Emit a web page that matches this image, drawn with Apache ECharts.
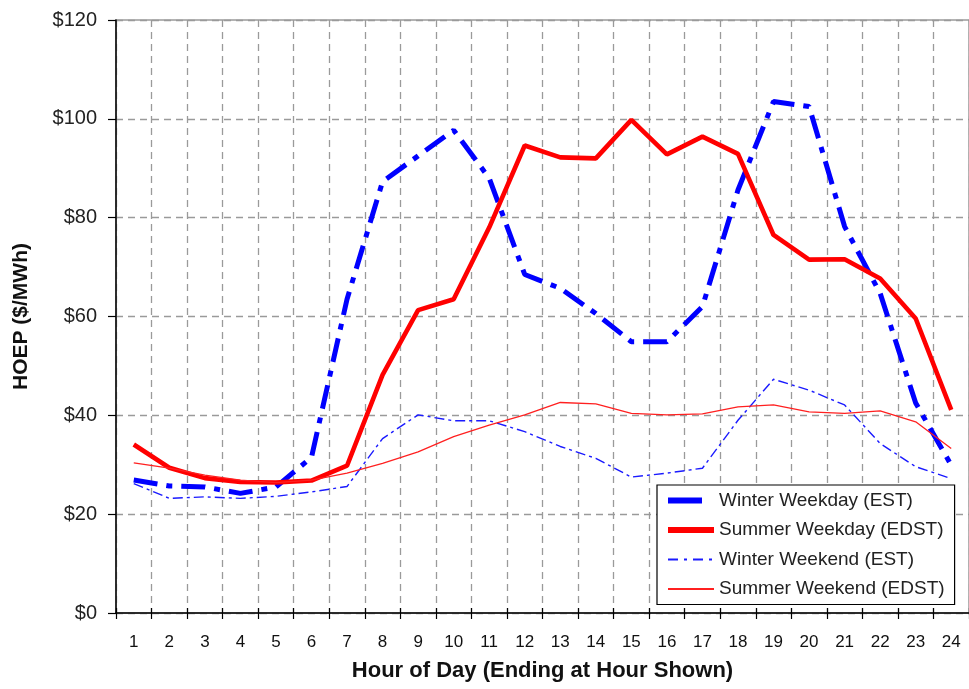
<!DOCTYPE html>
<html>
<head>
<meta charset="utf-8">
<script src="https://cdn.jsdelivr.net/npm/echarts@6/dist/echarts.min.js"></script>
<style>
  html, body { margin: 0; padding: 0; background: #fff; }
  #chart { width: 969px; height: 689px; }
</style>
</head>
<body>
<div id="chart"></div>
<script>
const hours = ['1','2','3','4','5','6','7','8','9','10','11','12','13','14','15','16','17','18','19','20','21','22','23','24'];
const yTicks = [0, 20, 40, 60, 80, 100, 120];
const seriesNames = ['Winter Weekday (EST)', 'Summer Weekday (EDST)', 'Winter Weekend (EST)', 'Summer Weekend (EDST)'];
const winterWeekday = [26.9, 25.7, 25.5, 24.2, 25.5, 31.5, 63.5, 87.3, 92.5, 97.7, 88, 68.5, 65.7, 60.6, 54.9, 54.9, 62.0, 85.6, 103.5, 102.5, 78.2, 64.7, 42.5, 29.9];
const summerWeekday = [34.1, 29.4, 27.3, 26.5, 26.4, 26.8, 29.8, 48.2, 61.3, 63.5, 78, 94.6, 92.2, 92.0, 99.8, 92.8, 96.4, 92.9, 76.5, 71.5, 71.6, 67.7, 59.6, 41.1];
const winterWeekend = [26.2, 23.2, 23.5, 23.2, 23.6, 24.5, 25.6, 35.3, 40.1, 38.9, 38.9, 36.7, 33.7, 31.3, 27.5, 28.3, 29.3, 39, 47.3, 45.1, 42.1, 34.3, 29.6, 27.2];
const summerWeekend = [30.4, 29.3, 27.9, 26.9, 26.4, 26.9, 28.3, 30.3, 32.6, 35.7, 38.0, 40.1, 42.6, 42.3, 40.4, 40.1, 40.3, 41.7, 42.1, 40.7, 40.4, 40.9, 38.7, 33.3];

const FONT = 'Liberation Sans, Arial, sans-serif';
const chart = echarts.init(document.getElementById('chart'), null, { renderer: 'canvas' });

const option = {
  animation: false,
  backgroundColor: '#fff',
  grid: {
    left: 116, top: 20, right: -7, bottom: 76,
    show: true, borderColor: '#9a9a9a', borderWidth: 1.5, backgroundColor: 'transparent'
  },
  legend: {
    orient: 'vertical',
    left: 657, top: 485,
    padding: [6, 10, 6, 8],
    itemGap: 10.5,
    itemWidth: 46,
    itemHeight: 14,
    backgroundColor: '#fff',
    borderColor: '#000',
    borderWidth: 1.2,
    itemStyle: { opacity: 0 },
    textStyle: { fontFamily: FONT, fontSize: 19, color: '#222' },
    data: [
      { name: seriesNames[0], itemStyle: { opacity: 0 }, lineStyle: { type: [34, 100], width: 6 } },
      { name: seriesNames[1], itemStyle: { opacity: 0 }, lineStyle: { width: 6 } },
      { name: seriesNames[2], itemStyle: { opacity: 0 }, lineStyle: { type: [10, 6, 3, 6] } },
      { name: seriesNames[3], itemStyle: { opacity: 0 } }
    ]
  },
  xAxis: [{
    type: 'category',
    data: hours,
    boundaryGap: true,
    position: 'bottom',
    name: 'Hour of Day (Ending at Hour Shown)',
    nameLocation: 'middle',
    nameGap: 47,
    nameTextStyle: { fontFamily: FONT, fontSize: 22, fontWeight: 'bold', color: '#111' },
    axisLine: { lineStyle: { color: '#000', width: 1.5 } },
    axisTick: { show: true, interval: 0, length: 6, lineStyle: { color: '#000', width: 1.2 } },
    axisLabel: { interval: 0, margin: 21, fontFamily: FONT, fontSize: 17, color: '#111' },
    splitLine: { show: true, interval: 0, lineStyle: { color: '#9a9a9a', width: 1.3, type: [7, 5] } }
  }, {
    type: 'category',
    data: hours,
    boundaryGap: true,
    position: 'bottom',
    axisLine: { show: false },
    axisTick: { show: true, inside: true, interval: 0, length: 5, lineStyle: { color: '#000', width: 1.2 } },
    axisLabel: { show: false },
    splitLine: { show: false }
  }],
  yAxis: {
    type: 'value',
    min: yTicks[0],
    max: yTicks[yTicks.length - 1],
    interval: yTicks[1] - yTicks[0],
    name: 'HOEP ($/MWh)',
    nameLocation: 'middle',
    nameGap: 84,
    nameTextStyle: { fontFamily: FONT, fontSize: 21, fontWeight: 'bold', color: '#111' },
    axisLine: { show: true, lineStyle: { color: '#000', width: 1.5 } },
    axisTick: { show: true, length: 8, lineStyle: { color: '#000', width: 1.2 } },
    axisLabel: { margin: 19, fontFamily: FONT, fontSize: 20, color: '#222', formatter: v => '$' + v },
    splitLine: { show: true, lineStyle: { color: '#9a9a9a', width: 1.3, type: [7, 5] } }
  },
  series: [
    {
      name: seriesNames[0], type: 'line', data: winterWeekday, symbol: 'none',
      lineStyle: { color: '#0000ff', width: 5, type: [24, 9, 6, 9], cap: 'butt' },
      itemStyle: { color: '#0000ff' }
    },
    {
      name: seriesNames[1], type: 'line', data: summerWeekday, symbol: 'none',
      lineStyle: { color: '#ff0000', width: 4.6, type: 'solid' },
      itemStyle: { color: '#ff0000' }
    },
    {
      name: seriesNames[2], type: 'line', data: winterWeekend, symbol: 'none',
      lineStyle: { color: '#1a1aff', width: 1.4, type: [10, 4, 3, 4] },
      itemStyle: { color: '#1a1aff' }
    },
    {
      name: seriesNames[3], type: 'line', data: summerWeekend, symbol: 'none',
      lineStyle: { color: '#ff2020', width: 1.3, type: 'solid' },
      itemStyle: { color: '#ff2020' }
    }
  ]
};
chart.setOption(option);
</script>
</body>
</html>
